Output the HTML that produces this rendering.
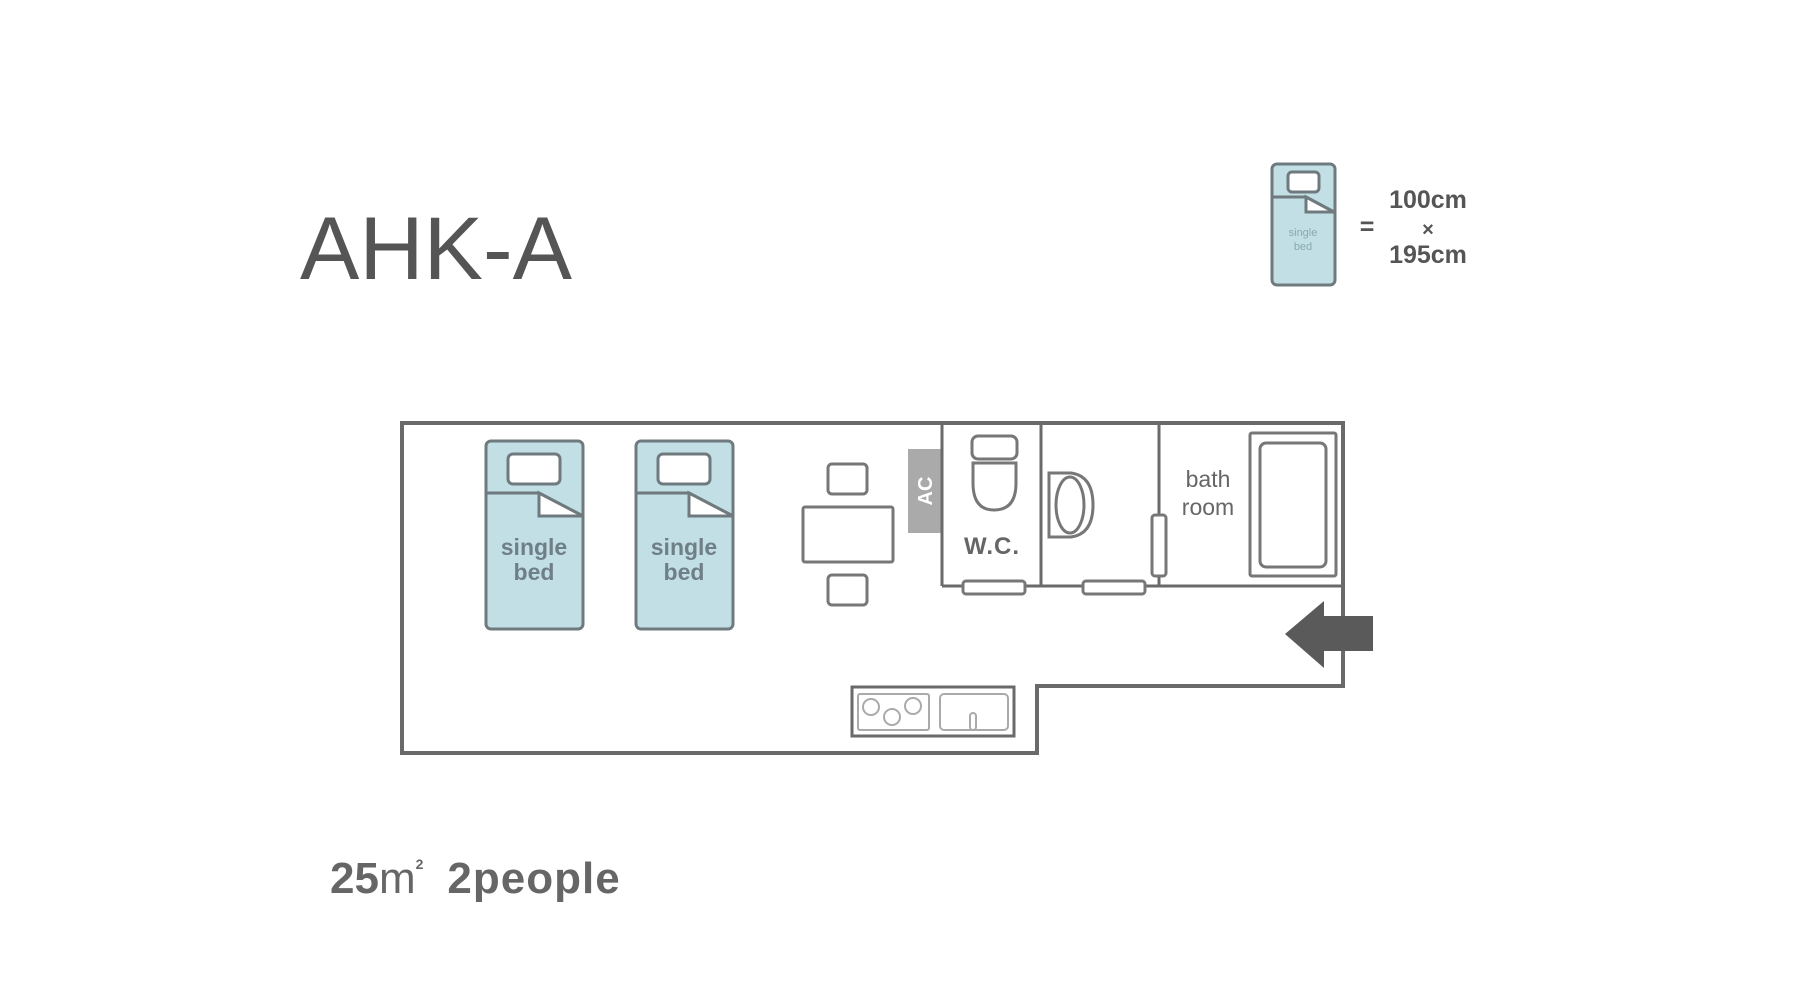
<!DOCTYPE html>
<html><head><meta charset="utf-8"><style>
html,body{margin:0;padding:0;background:#fff;width:1800px;height:1000px;overflow:hidden}
svg{display:block}
</style></head><body>
<svg width="1800" height="1000" viewBox="0 0 1800 1000" xmlns="http://www.w3.org/2000/svg" font-family="Liberation Sans, DejaVu Sans, sans-serif">
<rect width="1800" height="1000" fill="#fff"/>
<text x="300" y="279" font-size="89" fill="#555">AHK-A</text>
<g transform="translate(-4,-2)">
<!-- legend -->
<g stroke="#6f7a7e" stroke-width="3">
<rect x="1276" y="166" width="63" height="121" rx="5" fill="#c3dfe6"/>
<rect x="1292" y="174" width="31" height="20" rx="4" fill="#fff"/>
<polyline points="1276,199 1310,199 1338,214" fill="none"/>
<polygon points="1310,199 1338,214 1310,214" fill="#fff"/>
</g>
<text x="1307" y="238" font-size="11" fill="#8aa" text-anchor="middle">single</text>
<text x="1307" y="252" font-size="11" fill="#8aa" text-anchor="middle">bed</text>
<g font-size="25" font-weight="bold" fill="#555" text-anchor="middle">
<text x="1371" y="237">=</text>
<text x="1432" y="210">100cm</text>
<text x="1432" y="238" font-size="20">×</text>
<text x="1432" y="265">195cm</text>
</g>

<!-- plan outline -->
<polygon points="406,425 1347,425 1347,688 1041,688 1041,755 406,755" fill="none" stroke="#6a6a6a" stroke-width="4"/>

<!-- beds -->
<g stroke="#6f7a7e" stroke-width="3">
<rect x="490" y="443" width="97" height="188" rx="5" fill="#c3dfe6"/>
<rect x="512" y="456" width="52" height="30" rx="5" fill="#fff"/>
<polyline points="490,495 543,495 587,518" fill="none"/>
<polygon points="543,495 587,518 543,518" fill="#fff"/>
<rect x="640" y="443" width="97" height="188" rx="5" fill="#c3dfe6"/>
<rect x="662" y="456" width="52" height="30" rx="5" fill="#fff"/>
<polyline points="640,495 693,495 737,518" fill="none"/>
<polygon points="693,495 737,518 693,518" fill="#fff"/>
</g>
<g font-size="23" font-weight="bold" fill="#6f7f87" text-anchor="middle">
<text x="538" y="557">single</text><text x="538" y="582">bed</text>
<text x="688" y="557">single</text><text x="688" y="582">bed</text>
</g>

<!-- table & chairs -->
<g stroke="#777" stroke-width="3" fill="#fff">
<rect x="832" y="466" width="39" height="30" rx="4"/>
<rect x="807" y="509" width="90" height="55" rx="2"/>
<rect x="832" y="577" width="39" height="30" rx="4"/>
</g>
<rect x="912" y="451" width="34" height="84" fill="#aaa"/>
<text x="0" y="0" font-size="20" font-weight="bold" fill="#fff" text-anchor="middle" transform="translate(936,493) rotate(-90)">AC</text>

<!-- bathroom walls -->
<g stroke="#6a6a6a" stroke-width="3" fill="none">
<line x1="946" y1="425" x2="946" y2="588"/>
<line x1="1045" y1="425" x2="1045" y2="588"/>
<line x1="1163" y1="425" x2="1163" y2="588"/>
<line x1="946" y1="588" x2="1347" y2="588"/>
</g>
<g stroke="#777" stroke-width="3" fill="#fff">
<rect x="967" y="583" width="62" height="13" rx="3"/>
<rect x="1087" y="583" width="62" height="13" rx="3"/>
<rect x="1156" y="517" width="14" height="61" rx="3"/>
<!-- toilet -->
<rect x="976" y="438" width="45" height="23" rx="6"/>
<path d="M977,465 L1020,465 L1020,485 Q1020,512 998,512 Q977,512 977,485 Z"/>
<!-- sink -->
<path d="M1053,475 L1075,475 Q1097,478 1097,507 Q1097,536 1075,539 L1053,539 Z"/>
<ellipse cx="1074" cy="507" rx="14" ry="28"/>
<!-- tub -->
<rect x="1254" y="435" width="86" height="143" rx="2"/>
<rect x="1264" y="445" width="66" height="124" rx="6"/>
</g>
<text x="996" y="556" font-size="24" font-weight="bold" fill="#666" text-anchor="middle" letter-spacing="1">W.C.</text>
<g font-size="23" fill="#666" text-anchor="middle">
<text x="1212" y="489">bath</text><text x="1212" y="517">room</text>
</g>

<!-- arrow -->
<polygon points="1289,636 1328,603 1328,618 1377,618 1377,653 1328,653 1328,670" fill="#5a5a5a"/>

<!-- kitchen -->
<rect x="856" y="689" width="162" height="49" fill="#fff" stroke="#6a6a6a" stroke-width="3"/>
<g stroke="#aaa" stroke-width="2" fill="none">
<rect x="862" y="696" width="71" height="36" rx="2"/>
<rect x="944" y="696" width="68" height="36" rx="4"/>
<circle cx="875" cy="709" r="8"/><circle cx="896" cy="719" r="8"/><circle cx="917" cy="708" r="8"/>
<rect x="974" y="715" width="6" height="17" rx="3"/>
</g>
</g>
<text x="330" y="893" font-size="44" font-weight="bold" fill="#666">25<tspan font-weight="normal">m</tspan><tspan font-size="14" dy="-24">2</tspan><tspan dy="24" dx="24" letter-spacing="1">2people</tspan></text>
</svg>
</body></html>
